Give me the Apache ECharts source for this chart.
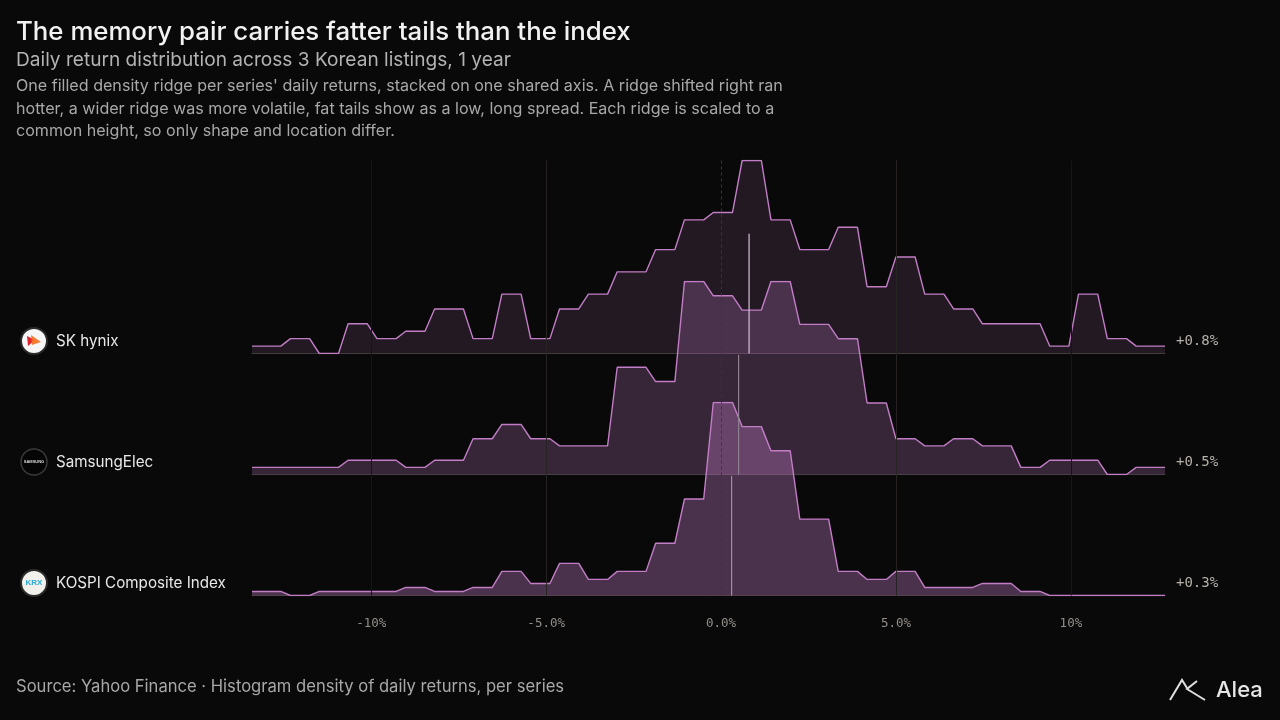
<!DOCTYPE html>
<html>
<head>
<meta charset="utf-8">
<script src="https://cdn.jsdelivr.net/npm/echarts@6/dist/echarts.min.js"></script>
<style>
    html, body { margin: 0; padding: 0; background: #090909; }
    #chart { width: 1280px; height: 720px; }
</style>
</head>
<body>
<div id="chart"></div>
<script>
// histogram counts per return bin (30 bins across the shared axis)
const seriesNames = ['SK hynix', 'SamsungElec', 'KOSPI Composite Index'];
const skHynixCounts = [1, 2, 0, 4, 2, 3, 6, 2, 8, 2, 6, 8, 11, 14, 18, 19, 26, 18, 14, 17, 9, 13, 8, 6, 4, 4, 1, 8, 2, 1];
const samsungCounts = [1, 1, 1, 2, 2, 1, 2, 5, 7, 5, 4, 4, 15, 13, 27, 25, 23, 27, 21, 19, 10, 5, 4, 5, 4, 1, 2, 2, 0, 1];
const kospiCounts = [1, 0, 1, 1, 1, 2, 1, 2, 6, 3, 8, 4, 6, 13, 24, 48, 42, 36, 19, 6, 4, 6, 2, 2, 3, 1, 0, 0, 0, 0];
const meanReturns = [0.8, 0.5, 0.3];
const returnMin = -13.41;
const returnMax = 12.69;
const tickValues = [-10, -5, 0, 5, 10];
const tickLabels = ['-10%', '-5.0%', '0.0%', '5.0%', '10%'];

const allCounts = [skHynixCounts, samsungCounts, kospiCounts];
const samplePoints = 96;

// layout
const plotLeft = 252, plotWidth = 913;
const ridgeHeight = 193, firstBaseline = 353.5, ridgeGap = 121;
const lineColor = '#c27dc6';
const fillAlpha = [0.14, 0.25, 0.36];
const markerColors = ['#d6bfd6', '#8f8090', '#a0909e'];
const markerFrac = 0.62;

// sample the histogram on an even grid, each sample takes the count of its bin
function ridgePoints(counts) {
    const n = counts.length;
    const pts = [];
    for (let j = 0; j < samplePoints; j++) {
        const t = j / (samplePoints - 1);
        const bin = Math.min(n - 1, Math.floor(t * n + 1e-9));
        pts.push([returnMin + t * (returnMax - returnMin), counts[bin]]);
    }
    return pts;
}

function baselineOf(i) {
    return firstBaseline + i * ridgeGap;
}

const grids = [], xAxes = [], yAxes = [], series = [];

allCounts.forEach((counts, i) => {
    grids.push({left: plotLeft, width: plotWidth, top: baselineOf(i) - ridgeHeight, height: ridgeHeight, outerBoundsMode: 'none'});
    xAxes.push({
        gridIndex: i, type: 'value', min: returnMin, max: returnMax,
        axisLine: {show: true, lineStyle: {color: '#3a3634', width: 1}},
        axisTick: {show: false}, axisLabel: {show: false}, splitLine: {show: false}
    });
    const top = Math.max(...counts);
    yAxes.push({gridIndex: i, type: 'value', min: 0, max: top, show: false});

    series.push({
        type: 'line', xAxisIndex: i, yAxisIndex: i, data: ridgePoints(counts),
        symbol: 'none', silent: true, z: 2 + i,
        lineStyle: {color: lineColor, width: 1.4},
        areaStyle: {color: 'rgba(194,125,198,' + fillAlpha[i] + ')', origin: 'start', opacity: 1}
    });
    series.push({
        type: 'line', xAxisIndex: i, yAxisIndex: i,
        data: [[meanReturns[i], 0], [meanReturns[i], top * markerFrac]],
        symbol: 'none', silent: true, z: 10,
        lineStyle: {color: markerColors[i], width: 1.2}
    });
});

// background grid: shared axis labels and vertical guides
const bgTop = baselineOf(0) - ridgeHeight;
grids.push({left: plotLeft, width: plotWidth, top: bgTop, height: baselineOf(2) - bgTop, outerBoundsMode: 'none'});
xAxes.push({
    gridIndex: 3, type: 'value', min: returnMin, max: returnMax,
    axisLine: {show: false}, axisTick: {show: false}, splitLine: {show: false},
    axisLabel: {
        customValues: tickValues,
        formatter: v => tickLabels[tickValues.indexOf(v)],
        color: '#938e88', fontFamily: 'DejaVu Sans Mono', fontSize: 12.5, margin: 22
    }
});
yAxes.push({gridIndex: 3, type: 'value', min: 0, max: 1, show: false});
series.push({
    type: 'line', xAxisIndex: 3, yAxisIndex: 3, data: [[returnMin, 0]],
    symbol: 'none', silent: true, z: 1, lineStyle: {opacity: 0},
    markLine: {
        symbol: 'none', silent: true, animation: false, label: {show: false},
        data: tickValues.map(v => ({
            xAxis: v,
            lineStyle: v === 0
                ? {color: '#3c3434', width: 1, type: [3, 3]}
                : {color: Math.abs(v) === 5 ? '#272323' : '#171414', width: 1, type: 'solid'}
        }))
    }
});

const textFont = 'Inter, "Noto Sans", sans-serif';
const graphics = [
    {type: 'text', left: 16, top: 19, style: {text: 'The memory pair carries fatter tails than the index', fill: '#f2f2f2', font: '500 25.8px ' + textFont}},
    {type: 'text', left: 16, top: 51, style: {text: 'Daily return distribution across 3 Korean listings, 1 year', fill: '#b3b3b3', font: '400 19.1px ' + textFont}},
    {type: 'text', left: 16, top: 75, style: {
        text: "One filled density ridge per series' daily returns, stacked on one shared axis. A ridge shifted right ran\nhotter, a wider ridge was more volatile, fat tails show as a low, long spread. Each ridge is scaled to a\ncommon height, so only shape and location differ.",
        fill: '#a8a8a8', font: '400 16.1px ' + textFont, lineHeight: 22.5}},
    {type: 'text', left: 16, top: 678, style: {text: 'Source: Yahoo Finance \u00b7 Histogram density of daily returns, per series', fill: '#a8a8a8', font: '400 16.6px ' + textFont}},
    {type: 'text', x: 1216, y: 690, style: {text: 'Alea', fill: '#e6e6e6', font: '500 22px ' + textFont, textVerticalAlign: 'middle'}},
    {type: 'polyline', shape: {points: [[1170, 700], [1182, 680], [1187, 688]]}, style: {stroke: '#e0e0e0', lineWidth: 2, fill: null}},
    {type: 'polyline', shape: {points: [[1197, 681], [1187, 689], [1205, 700]]}, style: {stroke: '#e0e0e0', lineWidth: 2, fill: null}}
];

function logoGraphics(i, cy) {
    const cx = 34;
    const out = [];
    if (i === 0) {
        out.push({type: 'circle', shape: {cx, cy, r: 13}, style: {fill: '#f6f6f6', stroke: '#2a2a2a', lineWidth: 2}});
        out.push({type: 'polygon', shape: {points: [[cx - 7, cy - 5], [cx + 1, cy - 1], [cx - 6, cy + 5]]}, style: {fill: '#e3232c'}});
        out.push({type: 'polygon', shape: {points: [[cx - 3, cy - 6], [cx + 7, cy + 1], [cx - 2, cy + 4]]}, style: {fill: '#f37021', opacity: 0.9}});
    } else if (i === 1) {
        out.push({type: 'circle', shape: {cx, cy, r: 13}, style: {fill: '#050505', stroke: '#3a3a3a', lineWidth: 1.5}});
        out.push({type: 'text', x: cx, y: cy, style: {text: 'SAMSUNG', fill: '#dddddd', font: 'bold 4px sans-serif', textAlign: 'center', textVerticalAlign: 'middle'}});
    } else {
        out.push({type: 'circle', shape: {cx, cy, r: 13}, style: {fill: '#f1f0ea', stroke: '#2a2a2a', lineWidth: 2}});
        out.push({type: 'text', x: cx, y: cy, style: {text: 'KRX', fill: '#2aa9d4', font: 'bold 8px sans-serif', textAlign: 'center', textVerticalAlign: 'middle'}});
    }
    return out;
}

seriesNames.forEach((name, i) => {
    const cy = baselineOf(i) - 12.5;
    graphics.push(...logoGraphics(i, cy));
    graphics.push({type: 'text', x: 56, y: cy, style: {text: name, fill: '#e8e8e8', font: '400 15.2px ' + textFont, textVerticalAlign: 'middle'}});
    const m = meanReturns[i];
    graphics.push({type: 'text', x: 1176, y: cy, style: {
        text: (m >= 0 ? '+' : '') + m.toFixed(1) + '%', fill: '#b5b0a8',
        font: '400 14px "DejaVu Sans Mono", monospace', textVerticalAlign: 'middle'}});
});

const chart = echarts.init(document.getElementById('chart'), null, {renderer: 'canvas'});
chart.setOption({
    backgroundColor: '#090909',
    animation: false,
    grid: grids,
    xAxis: xAxes,
    yAxis: yAxes,
    series: series,
    graphic: graphics
});
</script>
</body>
</html>
